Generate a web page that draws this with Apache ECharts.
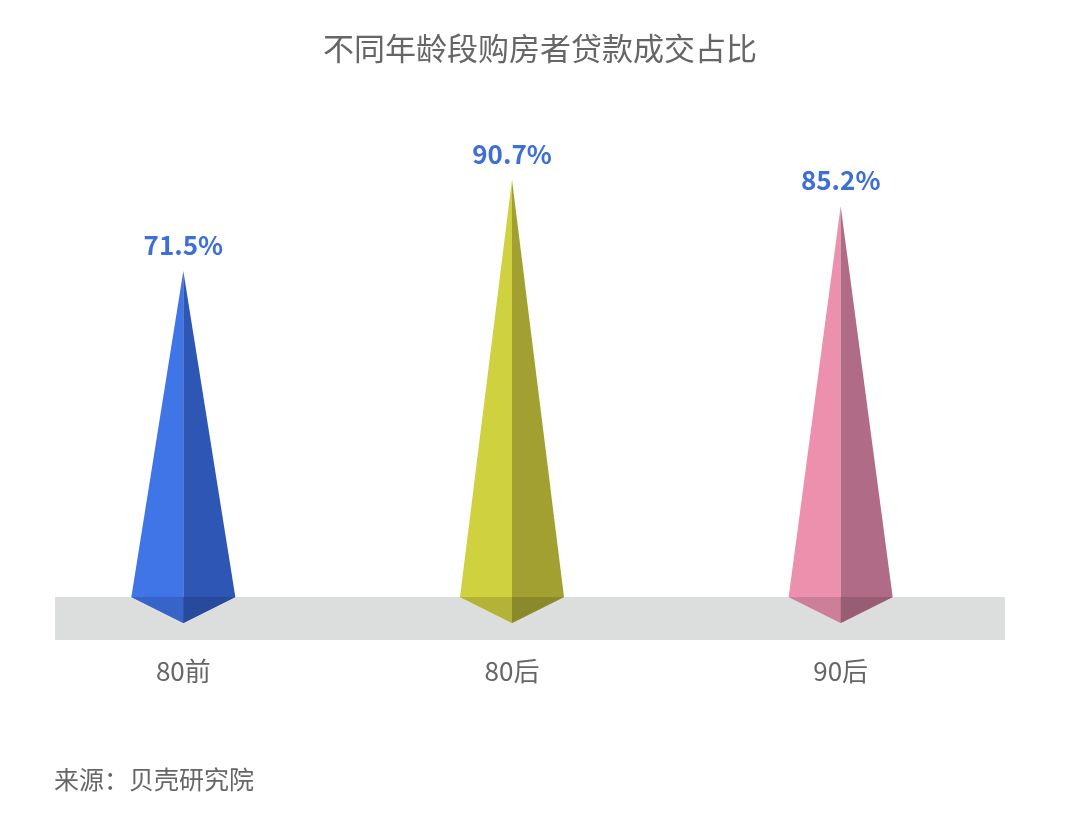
<!DOCTYPE html>
<html>
<head>
<meta charset="utf-8">
<script src="https://cdn.jsdelivr.net/npm/echarts@6/dist/echarts.min.js"></script>
<style>html,body{margin:0;padding:0;background:#fff;}#c{width:1080px;height:817px;}</style>
</head>
<body>
<div id="c"></div>
<script>
var categories = ['80前', '80后', '90后'];
var values = [71.5, 90.7, 85.2];
var titleText = '不同年龄段购房者贷款成交占比';
var sourceText = '来源：贝壳研究院';

var palette = [
  { left: '#3f75e6', right: '#2e56b4', lowLeft: '#3664c9', lowRight: '#284a9c' },
  { left: '#d0d13f', right: '#a1a030', lowLeft: '#b3b337', lowRight: '#8a892b' },
  { left: '#ec90ae', right: '#b06b86', lowLeft: '#cd7f99', lowRight: '#985c73' }
];
var FONT = '"Noto Sans CJK SC", "Noto Sans", sans-serif';

var chart = echarts.init(document.getElementById('c'));
chart.setOption({
  backgroundColor: '#ffffff',
  animation: false,
  title: {
    text: titleText,
    left: 'center',
    top: 28,
    textStyle: { fontFamily: FONT, fontSize: 31, fontWeight: 'normal', color: '#666666' }
  },
  graphic: [
    { type: 'rect', z: -10, shape: { x: 55, y: 597, width: 950, height: 43 }, style: { fill: '#dcdddd' } },
    { type: 'text', left: 54, top: 767, style: { text: sourceText, font: '25px ' + FONT, fill: '#666666' } }
  ],
  grid: { left: 19, right: 75, top: 136, bottom: 207 },
  xAxis: {
    type: 'category',
    data: categories,
    axisLine: { show: false },
    axisTick: { show: false },
    splitLine: { show: false },
    axisLabel: { margin: 48, fontFamily: FONT, fontSize: 26, color: '#666666' }
  },
  yAxis: { type: 'value', min: 0, max: 100, show: false, splitLine: { show: false } },
  series: [{
    type: 'custom',
    z: 5,
    data: values.map(function (v, i) { return [i, v]; }),
    renderItem: function (params, api) {
      var i = api.value(0), v = api.value(1);
      var base = api.coord([i, 0]);
      var top = api.coord([i, v]);
      var hw = 52, hd = 13;
      var cx = base[0], cy = base[1];
      var T = [top[0], top[1]];
      var L = [cx - hw, cy - hd], R = [cx + hw, cy - hd], F = [cx, cy + hd], M = [cx, cy - hd];
      var c = palette[params.dataIndex];
      return {
        type: 'group',
        children: [
          { type: 'polygon', shape: { points: [T, L, F] }, style: { fill: c.left } },
          { type: 'polygon', shape: { points: [T, F, R] }, style: { fill: c.right } },
          { type: 'polygon', shape: { points: [L, M, F] }, style: { fill: c.lowLeft } },
          { type: 'polygon', shape: { points: [M, R, F] }, style: { fill: c.lowRight } },
          { type: 'text', style: {
              text: v.toFixed(1) + '%', x: T[0], y: T[1] - 13,
              align: 'center', verticalAlign: 'bottom',
              font: 'bold 26px ' + FONT, fill: '#3e6fd6'
          } }
        ]
      };
    }
  }]
});
</script>
</body>
</html>
